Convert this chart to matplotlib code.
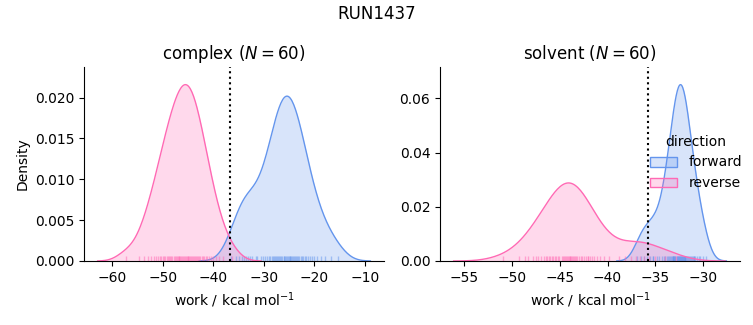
import numpy as np
import matplotlib
matplotlib.use("Agg")
import matplotlib.pyplot as plt
import seaborn as sns
from matplotlib.patches import Patch

# ---- data (work values, kcal/mol) ----
complex_forward = [
    -36.4, -35.5, -34.9, -34.4, -34.0, -33.6, -33.2, -32.8, -32.3, -31.6,
    -31.4, -30.6, -30.1, -29.7, -29.3, -29.0, -28.7, -28.4, -28.2, -27.9,
    -27.7, -27.5, -27.3, -27.1, -26.9, -26.7, -26.5, -26.3, -26.1, -26.0,
    -25.8, -25.6, -25.4, -25.3, -25.1, -24.9, -24.8, -24.6, -24.4, -24.2,
    -24.0, -23.8, -23.6, -23.4, -23.2, -23.0, -22.7, -22.5, -22.2, -21.9,
    -21.6, -21.3, -20.9, -20.5, -20.0, -19.4, -18.7, -17.8, -16.8, -15.3,
]
complex_reverse = [
    -57.2, -54.6, -53.6, -52.9, -52.3, -51.8, -51.4, -51.0, -50.6, -50.3,
    -50.0, -49.7, -49.5, -49.2, -49.0, -48.7, -48.5, -48.3, -48.1, -47.8,
    -47.6, -47.4, -47.2, -47.0, -46.8, -46.7, -46.5, -46.3, -46.1, -45.9,
    -45.7, -45.6, -45.4, -45.2, -45.0, -44.9, -44.7, -44.5, -44.4, -44.2,
    -44.0, -43.8, -43.6, -43.4, -43.2, -43.0, -42.8, -42.6, -42.3, -42.1,
    -41.8, -41.5, -41.2, -40.9, -40.5, -40.0, -39.5, -38.9, -38.0, -36.2,
]
solvent_forward = [
    -36.9, -36.5, -36.2, -35.9, -35.6, -35.2, -34.8,
    -35.2, -34.6, -34.3, -34.1, -34.0, -33.8, -33.7, -33.6, -33.5, -33.4,
    -33.3, -33.2, -33.2, -33.1, -33.0, -33.0, -32.9, -32.9, -32.7, -32.6,
    -32.7, -32.6, -32.5, -32.5, -32.4, -32.4, -32.3,
    -32.3, -32.2, -32.2, -32.1, -32.1, -32.0, -32.0, -31.9, -31.9, -31.9,
    -31.8, -31.7, -31.6, -31.5, -31.4, -31.3, -31.2, -31.1, -31.0, -30.9,
    -30.8, -30.6, -30.4, -30.3, -30.0, -29.7,
]
solvent_reverse = [
    -51.0, -49.3, -48.7, -48.3, -47.8, -47.5, -47.3, -47.0, -46.7, -46.5,
    -46.3, -46.1, -46.0, -45.8, -45.7, -45.5, -45.4, -45.2, -45.1, -44.8,
    -44.7, -44.6, -44.5, -44.4, -44.3,
    -44.1, -44.0, -43.9, -43.9, -43.8, -43.7, -43.6, -43.5, -43.4, -43.3,
    -43.2, -43.0, -42.8, -42.7, -42.5, -42.3, -42.1, -42.0, -41.8, -41.6,
    -41.4, -41.1, -40.8, -40.4, -39.8, -38.8,
    -38.2, -37.5, -37.0, -36.6, -36.2, -35.7, -35.0, -34.0, -32.8,
]
phases = ["complex", "solvent"]
directions = ["forward", "reverse"]
dotted_line = {"complex": -36.6, "solvent": -35.8}
title_text = "RUN1437"

data = {
    ("complex", "forward"): np.array(complex_forward),
    ("complex", "reverse"): np.array(complex_reverse),
    ("solvent", "forward"): np.array(solvent_forward),
    ("solvent", "reverse"): np.array(solvent_reverse),
}
colors = {"forward": "#6495ED", "reverse": "#FF69B4"}
n_total = sum(len(v) for v in data.values())


def kde(x, gridsize=200, cut=3):
    x = np.asarray(x, float)
    n = len(x)
    bw = x.std(ddof=1) * n ** (-1 / 5)
    grid = np.linspace(x.min() - cut * bw, x.max() + cut * bw, gridsize)
    dens = np.exp(-0.5 * ((grid[:, None] - x[None, :]) / bw) ** 2).sum(1)
    dens /= n * bw * np.sqrt(2 * np.pi)
    return grid, dens


fig = plt.figure(figsize=(7.53, 3.25), dpi=100)
W, H = 753, 325
axes = [
    fig.add_axes([84 / W, 1 - 261 / H, 300 / W, 194 / H]),
    fig.add_axes([440 / W, 1 - 261 / H, 300 / W, 194 / H]),
]

for ax, phase in zip(axes, phases):
    n_phase = len(data[(phase, "forward")])
    for d in directions:
        x = data[(phase, d)]
        g, dens = kde(x)
        dens = dens * len(x) / n_total
        c = colors[d]
        ax.fill_between(g, dens, 0, color=c, alpha=0.25, linewidth=0)
        ax.plot(g, dens, color=c, lw=1)
        sns.rugplot(x=x, ax=ax, color=c, height=0.025, alpha=0.5, linewidth=1)
    ax.axvline(dotted_line[phase], color="black", ls=":", lw=1.5)
    ax.margins(x=0.05, y=0.1)
    ax.set_ylim(bottom=0)
    ax.set_title(f"{phase} ($N={n_phase}$)", fontsize=12)
    ax.set_xlabel("work / kcal mol$^{-1}$")
    ax.spines["top"].set_visible(False)
    ax.spines["right"].set_visible(False)

axes[0].set_ylabel("Density")
axes[0].set_xticks([-60, -50, -40, -30, -20, -10])
axes[1].set_xticks([-55, -50, -45, -40, -35, -30])
axes[0].set_yticks([0, 0.005, 0.010, 0.015, 0.020])
axes[0].yaxis.set_major_formatter(matplotlib.ticker.FormatStrFormatter("%.3f"))
axes[1].set_yticks([0, 0.02, 0.04, 0.06])
axes[1].yaxis.set_major_formatter(matplotlib.ticker.FormatStrFormatter("%.2f"))

handles = [Patch(facecolor=matplotlib.colors.to_rgba(colors[d], 0.25),
                 edgecolor=colors[d], linewidth=1) for d in directions]
axes[1].legend(handles, directions, title="direction", frameon=False,
               loc="center left", bbox_to_anchor=(0.846, 0.5),
               bbox_transform=fig.transFigure)

fig.suptitle(title_text, fontsize=12, y=0.985)
fig.savefig("out.png", dpi=100)
